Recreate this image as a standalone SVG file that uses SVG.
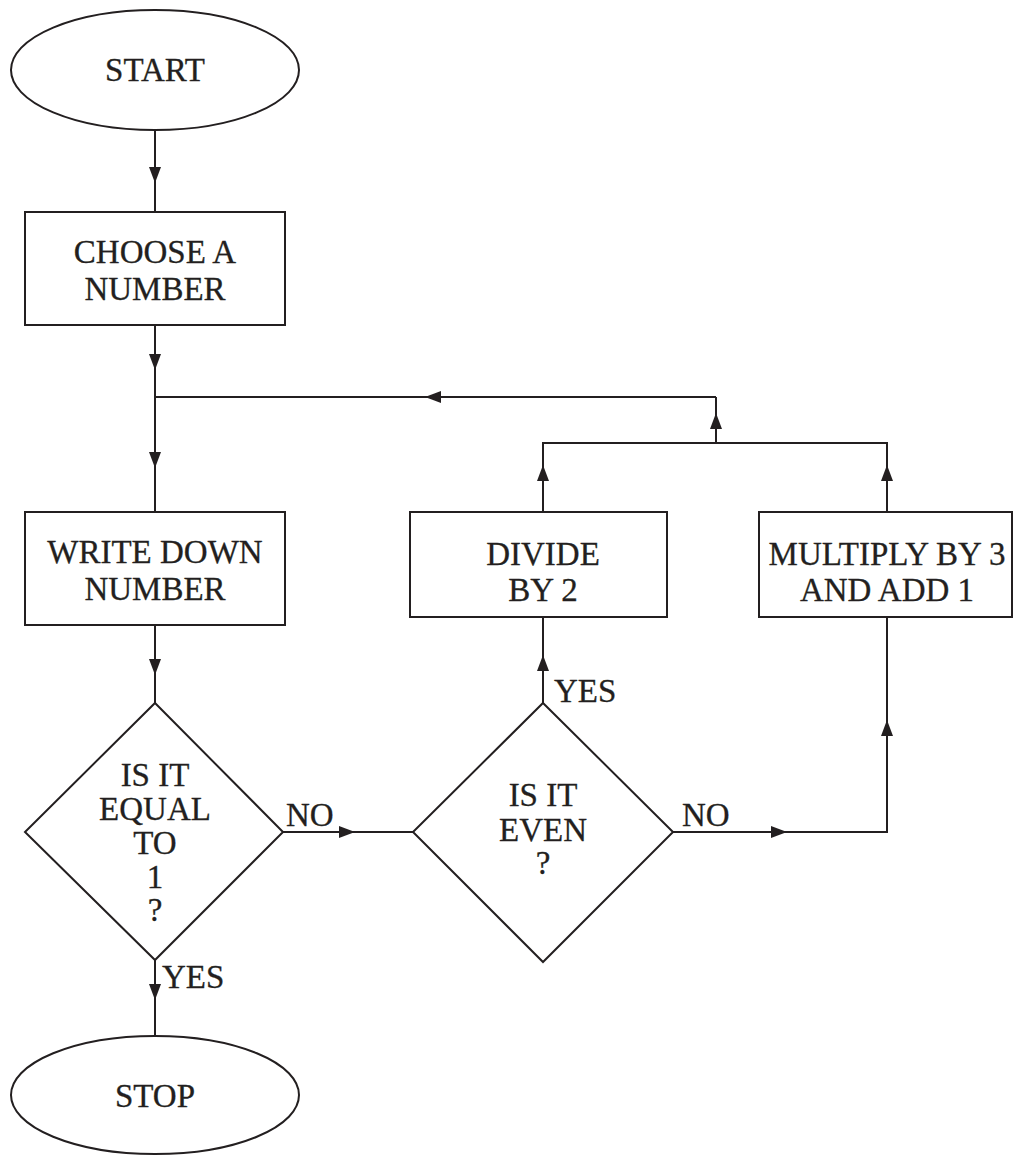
<svg xmlns="http://www.w3.org/2000/svg" width="1013" height="1156" viewBox="0 0 1013 1156">
<style>
.s{fill:#fff;stroke:#231f20;stroke-width:2}
.c{fill:none;stroke:#231f20;stroke-width:2}
.a{fill:none;stroke:#231f20;stroke-width:2;marker-end:url(#ah)}
text{font-family:"Liberation Serif","Times New Roman",serif;font-size:33px;fill:#231f20;stroke:#231f20;stroke-width:0.3;text-anchor:middle}
.l{text-anchor:start}
</style>
<defs>
<marker id="ah" markerWidth="16" markerHeight="12" viewBox="0 0 16 12" refX="16" refY="6" orient="auto" markerUnits="userSpaceOnUse">
<path d="M0,0 L16,6 L0,12 Z" fill="#231f20"/>
</marker>
</defs>
<g id="connectors">
<path class="a" d="M155,130 V183"/><path class="c" d="M155,183 V212"/>
<path class="a" d="M155,325 V370"/><path class="c" d="M155,370 V398"/>
<path class="a" d="M155,398 V468"/><path class="c" d="M155,468 V512"/>
<path class="a" d="M155,625 V675"/><path class="c" d="M155,675 V703"/>
<path class="a" d="M155,960 V1000"/><path class="c" d="M155,1000 V1035"/>
<path class="a" d="M283,832 H355"/><path class="c" d="M355,832 H413"/>
<path class="a" d="M673,832 H787"/><path class="c" d="M787,832 H887 V733"/>
<path class="a" d="M887,760 V720"/><path class="c" d="M887,720 V617"/>
<path class="a" d="M543,703 V655"/><path class="c" d="M543,655 V617"/>
<path class="a" d="M543,512 V465"/><path class="c" d="M543,465 V443 H887 V465"/>
<path class="a" d="M887,512 V465"/>
<path class="a" d="M716,443 V413"/><path class="c" d="M716,413 V397"/>
<path class="a" d="M716,397 H425"/><path class="c" d="M425,397 H155"/>
</g>
<g id="start"><ellipse class="s" cx="155" cy="70" rx="144" ry="60"/><text x="155" y="81">START</text></g>
<g id="choose"><rect class="s" x="25" y="212" width="260" height="113"/><text x="155" y="263">CHOOSE A</text><text x="155" y="300">NUMBER</text></g>
<g id="write"><rect class="s" x="25" y="512" width="260" height="113"/><text x="155" y="563">WRITE DOWN</text><text x="155" y="600">NUMBER</text></g>
<g id="equal"><polygon class="s" points="155,703 283,832 155,960 25,832"/><text x="155" y="786">IS IT</text><text x="155" y="820">EQUAL</text><text x="155" y="854">TO</text><text x="155" y="888">1</text><text x="155" y="921">?</text></g>
<g id="even"><polygon class="s" points="543,703 673,832 543,962 413,832"/><text x="543" y="806">IS IT</text><text x="543" y="841">EVEN</text><text x="543" y="874">?</text></g>
<g id="divide"><rect class="s" x="410" y="512" width="257" height="105"/><text x="543" y="565">DIVIDE</text><text x="543" y="601">BY 2</text></g>
<g id="multiply"><rect class="s" x="759" y="512" width="253" height="105"/><text x="887" y="565">MULTIPLY BY 3</text><text x="887" y="601">AND ADD 1</text></g>
<g id="stop"><ellipse class="s" cx="155" cy="1095" rx="144" ry="59"/><text x="155" y="1107">STOP</text></g>
<g id="labels">
<text class="l" x="286" y="826">NO</text>
<text class="l" x="682" y="826">NO</text>
<text class="l" x="162" y="988">YES</text>
<text class="l" x="554" y="702">YES</text>
</g>
</svg>
